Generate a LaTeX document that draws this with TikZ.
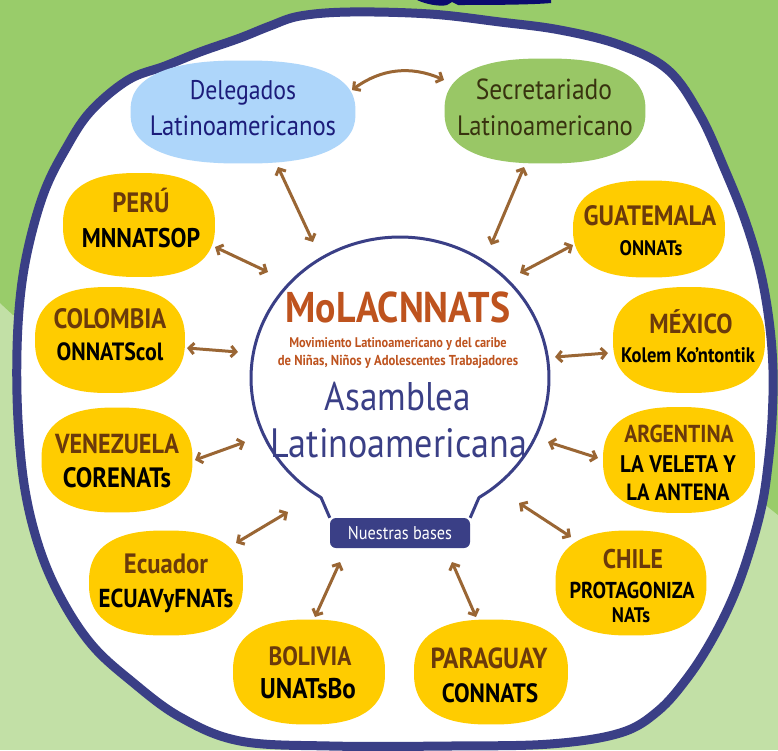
\documentclass[tikz,border=0pt]{standalone}
\usepackage{fontspec}
\setmainfont{PT Sans}[FakeStretch=0.88]
\usetikzlibrary{arrows.meta,shapes.geometric}
\definecolor{navy}{HTML}{3A3F86}
\definecolor{darknavy}{HTML}{0B0B6E}
\definecolor{bgdark}{HTML}{99CC6A}
\definecolor{bglight}{HTML}{C2E0A6}
\definecolor{yel}{HTML}{FFCC00}
\definecolor{lblue}{HTML}{AED6FA}
\definecolor{lgreen}{HTML}{99C766}
\definecolor{cbrown}{HTML}{6B3A0B}
\definecolor{abrown}{HTML}{9A6634}
\definecolor{orng}{HTML}{BE531E}
\definecolor{dnavy}{HTML}{1C1C7A}
\definecolor{dolive}{HTML}{38330F}
% blob: name, centre, width, height, colour
\newcommand\myblob[5]{%
  \node[ellipse, inner sep=0pt, minimum width=#3pt, minimum height=#4pt] (#1) at (#2) {};
  \begin{scope}[shift={(#1.center)}]
    \fill[#5] plot[smooth cycle, domain=5:355, samples=36]
      ({#3/2*cos(\x)*abs(cos(\x))^(-0.2)},{#4/2*sin(\x)*abs(sin(\x))^(-0.2)});
  \end{scope}}
\begin{document}
\begin{tikzpicture}[x=1pt,y=-1pt,
  txt/.style={anchor=base, inner sep=0pt},
  cname/.style={txt, text=cbrown, font=\bfseries\fontsize{27}{30}\selectfont},
  oname/.style={txt, text=black, font=\bfseries\fontsize{27}{30}\selectfont},
  conn/.style={draw=abrown, line width=3pt, line cap=round,
    {Straight Barb[length=5pt,width=11pt]}-{Straight Barb[length=5pt,width=11pt]}},
]
\useasboundingbox (0,0) rectangle (778,750);
% background
\fill[bglight] (0,0) rectangle (778,750);
\fill[bgdark] (0,0) -- (778,0) -- (778,515) -- (763,503) -- (400,330) -- (13,315) -- (0,303) -- cycle;
\fill[darknavy] (417,0) .. controls (425,4) and (440,7) .. (447,5) -- (452,2) -- (458,5)
  .. controls (480,5) and (530,5) .. (551,3) -- (551,0) -- cycle;
% white frame
\draw[navy, line width=9pt, fill=white] plot[smooth cycle, tension=0.6] coordinates {
 (300,16) (350,12) (430,14) (500,22) (560,30) (620,45) (668,70) (700,115) (725,170)
 (745,220) (760,270) (769,320) (773,370) (772,420) (768,465) (762,505) (750,550)
 (734,595) (713,638) (688,677) (658,711) (620,733) (550,744) (450,746) (330,746) (240,741)
 (180,717) (130,680) (92,645) (62,600) (40,550) (25,490) (18,420) (17,350) (21,290)
 (30,240) (45,190) (65,150) (90,112) (128,80) (165,66) (200,52) (240,38) (270,26)};
% top nodes
\myblob{dele}{243,112}{225}{103}{lblue}
\myblob{secr}{545,111}{201}{105}{lgreen}
\node[txt, text=dnavy, font=\fontsize{27}{30}\selectfont] (deleA) at (243,99) {Delegados};
\node[txt, text=dnavy, font=\fontsize{28}{30}\selectfont] (deleB) at (243,135) {Latinoamericanos};
\node[txt, text=dolive, font=\fontsize{29}{30}\selectfont] (secrA) at (544,99) {Secretariado};
\node[txt, text=dolive, font=\fontsize{28}{30}\selectfont] (secrB) at (545,135) {Latinoamericano};
% country blobs
\myblob{peru}{139,225}{152}{104}{yel}
\myblob{guat}{649,229}{152}{97}{yel}
\myblob{colo}{110,340}{150}{106}{yel}
\myblob{vene}{117,460}{151}{105}{yel}
\myblob{mexi}{689,340}{152}{106}{yel}
\myblob{arge}{679,460}{152}{106}{yel}
\myblob{ecua}{166,583}{154}{105}{yel}
\myblob{boli}{309,672}{152}{105}{yel}
\myblob{para}{491,672}{154}{105}{yel}
\myblob{chil}{631,583}{151}{105}{yel}
% country texts
\node[cname, font=\bfseries\fontsize{28}{30}\selectfont] (peruA) at (141,212) {PERÚ};
\node[oname] (peruB) at (141,247) {MNNATSOP};
\node[cname, font=\bfseries\fontsize{28}{30}\selectfont] (guatA) at (650,225) {GUATEMALA};
\node[oname, font=\bfseries\fontsize{21}{30}\selectfont] (guatB) at (651,255) {ONNATs};
\node[cname, font=\bfseries\fontsize{28}{30}\selectfont] (coloA) at (110,328) {COLOMBIA};
\node[oname, font=\bfseries\fontsize{25}{30}\selectfont] (coloB) at (110,360) {ONNATScol};
\node[cname, font=\bfseries\fontsize{27.5}{30}\selectfont] (veneA) at (117,453) {VENEZUELA};
\node[oname, font=\bfseries\fontsize{28}{30}\selectfont] (veneB) at (117,487) {CORENATs};
\node[cname, font=\bfseries\fontsize{27.5}{30}\selectfont] (mexiA) at (691,333) {MÉXICO};
\node[oname, font=\bfseries\fontsize{21}{30}\selectfont] (mexiB) at (688,362) {Kolem Ko’ntontik};
\node[cname, font=\bfseries\fontsize{24.5}{30}\selectfont] (argeA) at (679,442) {ARGENTINA};
\node[oname, font=\bfseries\fontsize{24}{30}\selectfont] (argeB) at (678,472) {LA VELETA Y};
\node[oname, font=\bfseries\fontsize{23.5}{30}\selectfont] (argeC) at (678,500) {LA ANTENA};
\node[cname, font=\bfseries\fontsize{28}{30}\selectfont] (ecuaA) at (166,573) {Ecuador};
\node[oname, font=\bfseries\fontsize{26}{30}\selectfont] (ecuaB) at (166,607) {ECUAVyFNATs};
\node[cname, font=\bfseries\fontsize{26.5}{30}\selectfont] (boliA) at (310,665) {BOLIVIA};
\node[oname, font=\bfseries\fontsize{28.5}{30}\selectfont] (boliB) at (308,698) {UNATsBo};
\node[cname, font=\bfseries\fontsize{29}{30}\selectfont] (paraA) at (489,668) {PARAGUAY};
\node[oname, font=\bfseries\fontsize{26.5}{30}\selectfont] (paraB) at (490,702) {CONNATS};
\node[cname] (chilA) at (633,568) {CHILE};
\node[oname, font=\bfseries\fontsize{23}{30}\selectfont] (chilB) at (632,598) {PROTAGONIZA};
\node[oname, font=\bfseries\fontsize{21}{30}\selectfont] (chilC) at (631,622) {NATs};
% centre
\node[ellipse, minimum width=298pt, minimum height=282pt, inner sep=0pt] (molac) at (400,378) {};
\node[fill=navy, rounded corners=6pt, minimum width=140pt, minimum height=30pt, inner sep=0pt,
  text=white, font=\fontsize{18.5}{20}\selectfont] (bases) at (400,533) {Nuestras bases};
\draw[navy, line width=3pt, line join=round] (bases.north east) -- plot[smooth, domain=-58:238, samples=60]
  ({400+149*cos(\x)},{378-141*sin(\x)}) -- (bases.north west);
\node[txt, text=orng, font=\bfseries\fontsize{43}{40}\selectfont] (ttl) at (398,322) {MoLACNNATS};
\node[txt, text=orng, font=\bfseries\fontsize{14}{16}\selectfont] (subA) at (398,347) {Movimiento Latinoamericano y del caribe};
\node[txt, text=orng, font=\bfseries\fontsize{14.4}{16}\selectfont] (subB) at (398,365) {de Niñas, Niños y Adolescentes Trabajadores};
\node[txt, text=navy, font=\fontsize{40}{40}\selectfont] (asamA) at (398,410) {Asamblea};
\node[txt, text=navy, font=\fontsize{41}{40}\selectfont] (asamB) at (399,457) {Latinoamericana};
% connectors
\draw[conn] ([shift={(109,-22)}]dele.center) to[bend left=30] ([shift={(-101,-31)}]secr.center);
\draw[conn] ([shift={(35,55)}]dele.center) to ([shift={(-87,-136)}]molac.center);
\draw[conn] ([shift={(-21,56)}]secr.center) to ([shift={(91,-133)}]molac.center);
\draw[conn] ([shift={(76,22)}]peru.center) to ([shift={(-132,-106)}]molac.center);
\draw[conn] ([shift={(-76,16)}]guat.center) to ([shift={(120,-105)}]molac.center);
\draw[conn] ([shift={(77,8)}]colo.center) to ([shift={(-162,-26)}]molac.center);
\draw[conn] ([shift={(78,0)}]vene.center) to ([shift={(-155,64)}]molac.center);
\draw[conn] ([shift={(-81,13)}]mexi.center) to ([shift={(155,-21)}]molac.center);
\draw[conn] ([shift={(-81,-2)}]arge.center) to ([shift={(148,64)}]molac.center);
\draw[conn] ([shift={(70,-40)}]ecua.center) to ([shift={(-112,134)}]molac.center);
\draw[conn] ([shift={(-60,-46)}]chil.center) to ([shift={(119,125)}]molac.center);
\draw[conn] ([shift={(6,-55)}]boli.center) to ([shift={(-60,29)}]bases.center);
\draw[conn] ([shift={(-15,-55)}]para.center) to ([shift={(52,29)}]bases.center);
\end{tikzpicture}
\end{document}
